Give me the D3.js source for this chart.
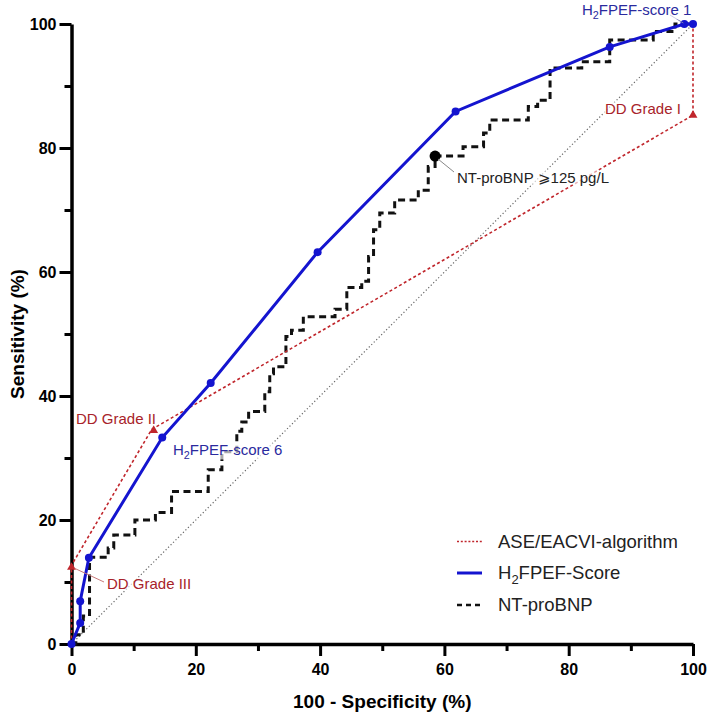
<!DOCTYPE html>
<html><head><meta charset="utf-8">
<script src="https://cdn.jsdelivr.net/npm/d3@7"></script>
<style>
body{margin:0;background:#fff}
svg{display:block}
text{font-family:"Liberation Sans",Arial,Helvetica,sans-serif}
</style>
</head><body>
<svg id="c" width="709" height="713"></svg>
<script>
// ---- data ----
const majorTicks = [0, 20, 40, 60, 80, 100];
const minorTicks = [10, 30, 50, 70, 90];

// H2FPEF-Score ROC points (100-specificity, sensitivity)
const h2fpefFpr = [0, 1.4, 1.4, 2.8, 14.6, 22.4, 39.6, 61.8, 86.6, 98.6, 100];
const h2fpefTpr = [0, 3.4, 6.9, 13.9, 33.3, 42.1, 63.2, 85.9, 96.3, 100, 100];

// ASE/EACVI-algorithm points
const aseFpr = [0, 0, 12.9, 100, 100];
const aseTpr = [0, 12.7, 34.6, 85.3, 100];

// NT-proBNP stepped ROC
const ntproBNP = [
  [0,0],[0.7,0],[0.7,1.5],[1.9,1.5],[1.9,4.5],[2.9,4.5],[2.9,14],[5.9,14],[5.9,15.5],[6.8,15.5],
  [6.8,17.6],[10.2,17.6],[10.2,20],[13.5,20],[13.5,21.2],[16.1,21.2],[16.1,24.6],[22,24.6],[22,28.1],
  [24.2,28.1],[24.2,31],[26.6,31],[26.6,34.3],[27.4,34.3],[27.4,35.8],[28.5,35.8],[28.5,37.5],[31.1,37.5],
  [31.1,40.7],[31.9,40.7],[31.9,43.6],[32.5,43.6],[32.5,44.7],[34.5,44.7],[34.5,49.6],[35.4,49.6],
  [35.4,50.6],[37.3,50.6],[37.3,52.8],[42.4,52.8],[42.4,54],[44.3,54],[44.3,57.5],[46.7,57.5],[46.7,58.5],
  [47.8,58.5],[47.8,62.5],[48.6,62.5],[48.6,66.8],[49.6,66.8],[49.6,69.5],[52,69.5],[52,71.6],[55.8,71.6],
  [55.8,73.2],[57.4,73.2],[57.4,77],[58.5,77],[58.5,78.7],[63,78.7],[63,80.2],[66.3,80.2],[66.3,82.4],
  [67.3,82.4],[67.3,84.5],[73.5,84.5],[73.5,86.7],[75,86.7],[75,87.7],[77,87.7],[77,92.9],[82.1,92.9],
  [82.1,93.9],[86.6,93.9],[86.6,97.4],[93.6,97.4],[93.6,98.8],[97.1,98.8],[97.1,100],[100,100]
];
const ntCutoff = [58.5, 78.7];

const legendLabels = ["ASE/EACVI-algorithm", "H2FPEF-Score", "NT-proBNP"];

// ---- drawing ----
const svg = d3.select("#c");
const x = d3.scaleLinear().domain([0, 100]).range([71.5, 693]);
const y = d3.scaleLinear().domain([0, 100]).range([644, 24]);

const BLUE = "#1414cf", BLUE_T = "#2a2a9e", RED = "#c0262c", RED_T = "#a8232a";

// axes
function styleAxis(g, w) {
  g.select(".domain").attr("stroke", "#000").attr("stroke-width", w);
  g.selectAll(".tick line").attr("stroke", "#000").attr("stroke-width", 3);
}
const gxMinor = svg.append("g").attr("transform", `translate(0,${y(0)})`)
  .call(d3.axisBottom(x).tickValues(minorTicks).tickSize(7).tickSizeOuter(0).tickFormat(""));
gxMinor.select(".domain").remove();
gxMinor.selectAll(".tick line").attr("stroke", "#000").attr("stroke-width", 3);
const gyMinor = svg.append("g").attr("transform", `translate(${x(0)},0)`)
  .call(d3.axisLeft(y).tickValues(minorTicks).tickSize(7).tickSizeOuter(0).tickFormat(""));
gyMinor.select(".domain").remove();
gyMinor.selectAll(".tick line").attr("stroke", "#000").attr("stroke-width", 3);

const gx = svg.append("g").attr("transform", `translate(0,${y(0)})`)
  .call(d3.axisBottom(x).tickValues(majorTicks).tickSize(12).tickSizeOuter(0).tickPadding(8));
styleAxis(gx, 3.5);
gx.selectAll(".tick text").attr("font-size", 16).attr("font-weight", "bold").attr("fill", "#000")
  .style("font-family", '"Liberation Sans",Arial,sans-serif');
const gy = svg.append("g").attr("transform", `translate(${x(0)},0)`)
  .call(d3.axisLeft(y).tickValues(majorTicks).tickSize(12).tickSizeOuter(0).tickPadding(3));
styleAxis(gy, 3.5);
gy.selectAll(".tick text").attr("font-size", 16).attr("font-weight", "bold").attr("fill", "#000")
  .style("font-family", '"Liberation Sans",Arial,sans-serif');

// axis titles
svg.append("text").attr("x", (x(0) + x(100)) / 2).attr("y", 701).attr("dy", "0.35em")
  .attr("text-anchor", "middle").attr("font-size", 19).attr("font-weight", "bold")
  .text("100 - Specificity (%)");
svg.append("text").attr("transform", `translate(17,${(y(0) + y(100)) / 2}) rotate(-90)`)
  .attr("dy", "0.35em").attr("text-anchor", "middle").attr("font-size", 19).attr("font-weight", "bold")
  .text("Sensitivity (%)");

const plot = svg.append("g");

// reference diagonal
plot.append("line").attr("x1", x(0)).attr("y1", y(0)).attr("x2", x(100)).attr("y2", y(100))
  .attr("stroke", "#666").attr("stroke-width", 1.2).attr("stroke-dasharray", "1.2,2.3");

// NT-proBNP
const line = d3.line().x(d => x(d[0])).y(d => y(d[1]));
plot.append("path").datum(ntproBNP).attr("d", line).attr("fill", "none")
  .attr("stroke", "#111").attr("stroke-width", 3).attr("stroke-dasharray", "7,4.5");

// ASE/EACVI
const asePts = aseFpr.map((v, i) => [v, aseTpr[i]]);
plot.append("path").datum(asePts).attr("d", line).attr("fill", "none")
  .attr("stroke", RED).attr("stroke-width", 1.6).attr("stroke-dasharray", "3,2.5");
// arrowheads
function arrow(px, py, angleDeg) {
  plot.append("path").attr("d", d3.symbol(d3.symbolTriangle, 34)())
    .attr("transform", `translate(${px},${py}) rotate(${angleDeg})`).attr("fill", RED);
}
arrow(x(aseFpr[1]), y(aseTpr[1]) + 2, 0);
{
  const dx = x(aseFpr[2]) - x(aseFpr[3]), dy = y(aseTpr[2]) - y(aseTpr[3]);
  arrow(x(aseFpr[2]) + 2, y(aseTpr[2]) + 1, Math.atan2(dy, dx) * 180 / Math.PI + 90);
}
arrow(x(aseFpr[3]), y(aseTpr[3]), 0);

// H2FPEF
const hPts = h2fpefFpr.map((v, i) => [v, h2fpefTpr[i]]);
plot.append("path").datum(hPts).attr("d", line).attr("fill", "none")
  .attr("stroke", BLUE).attr("stroke-width", 3);
plot.selectAll("circle.h").data(hPts).join("circle").attr("class", "h")
  .attr("cx", d => x(d[0])).attr("cy", d => y(d[1])).attr("r", 4).attr("fill", BLUE);

// NT cutoff point
plot.append("circle").attr("cx", x(ntCutoff[0])).attr("cy", y(ntCutoff[1])).attr("r", 5.5).attr("fill", "#000");

// annotations
const ann = svg.append("g");
function label(px, py, parts, color, size) {
  const g = ann.append("g");
  const bg = g.append("rect").attr("fill", "#fff").attr("opacity", 0.65);
  const t = g.append("text").attr("x", px).attr("y", py).attr("dy", "0.35em")
    .attr("font-size", size).attr("fill", color);
  parts.forEach(p => {
    if (p.sub) {
      t.append("tspan").attr("dy", "0.3em").attr("font-size", size * 0.72).text(p.t);
      t.append("tspan").attr("dy", "-0.3em").text("");
    } else t.append("tspan").text(p.t);
  });
  // fix dy: the tspan after sub restores baseline
  t.selectAll("tspan").each(function (d, i, n) {});
  const b = t.node().getBBox();
  bg.attr("x", b.x - 1).attr("y", b.y + 2).attr("width", b.width + 2).attr("height", b.height - 4);
  return t;
}
function subLabel(px, py, pre, sub, post, color, size) {
  const g = ann.append("g");
  const bg = g.append("rect").attr("fill", "#fff").attr("opacity", 0.65);
  const t = g.append("text").attr("x", px).attr("y", py).attr("font-size", size).attr("fill", color);
  t.append("tspan").attr("dy", "0.35em").text(pre);
  t.append("tspan").attr("dy", size * 0.28).attr("font-size", size * 0.72).text(sub);
  t.append("tspan").attr("dy", -size * 0.28).text(post);
  const b = t.node().getBBox();
  bg.attr("x", b.x - 1).attr("y", b.y + 2).attr("width", b.width + 2).attr("height", b.height - 4);
}

// leader lines
ann.append("line").attr("x1", 670).attr("y1", 15).attr("x2", x(98.6) - 1).attr("y2", y(100) - 1)
  .attr("stroke", "#7a7ab8").attr("stroke-width", 1);
ann.append("line").attr("x1", 104).attr("y1", 582).attr("x2", x(0) + 3).attr("y2", y(12.7) + 3)
  .attr("stroke", "#c97a7a").attr("stroke-width", 1);
ann.append("line").attr("x1", x(ntCutoff[0]) + 3).attr("y1", y(ntCutoff[1]) + 3).attr("x2", 454).attr("y2", 172)
  .attr("stroke", "#888").attr("stroke-width", 1);

subLabel(582, 10, "H", "2", "FPEF-score 1", BLUE_T, 15);
subLabel(173, 450, "H", "2", "FPEF-score 6", BLUE_T, 15);
label(605, 109, [{t: "DD Grade I"}], RED_T, 15);
label(76, 419, [{t: "DD Grade II"}], RED_T, 15);
label(107, 584, [{t: "DD Grade III"}], RED_T, 15);
label(457, 178, [{t: "NT-proBNP \u2A7E125 pg/L"}], "#222", 15);

// legend
const legY = [541.5, 573, 605];
const lg = svg.append("g");
lg.append("line").attr("x1", 457).attr("x2", 482).attr("y1", legY[0]).attr("y2", legY[0])
  .attr("stroke", RED).attr("stroke-width", 1.5).attr("stroke-dasharray", "2,1.8");
lg.append("line").attr("x1", 457).attr("x2", 482).attr("y1", legY[1]).attr("y2", legY[1])
  .attr("stroke", BLUE).attr("stroke-width", 3);
lg.append("line").attr("x1", 457).attr("x2", 482).attr("y1", legY[2]).attr("y2", legY[2])
  .attr("stroke", "#111").attr("stroke-width", 2.5).attr("stroke-dasharray", "5,4");
lg.append("text").attr("x", 498).attr("y", legY[0]).attr("dy", "0.35em").attr("font-size", 18.5)
  .attr("fill", "#222").text(legendLabels[0]);
{
  const t = lg.append("text").attr("x", 498).attr("y", legY[1]).attr("font-size", 18.5).attr("fill", "#222");
  t.append("tspan").attr("dy", "0.35em").text("H");
  t.append("tspan").attr("dy", 5).attr("font-size", 13).text("2");
  t.append("tspan").attr("dy", -5).text("FPEF-Score");
}
lg.append("text").attr("x", 498).attr("y", legY[2]).attr("dy", "0.35em").attr("font-size", 18.5)
  .attr("fill", "#222").text(legendLabels[2]);
</script>
</body></html>
